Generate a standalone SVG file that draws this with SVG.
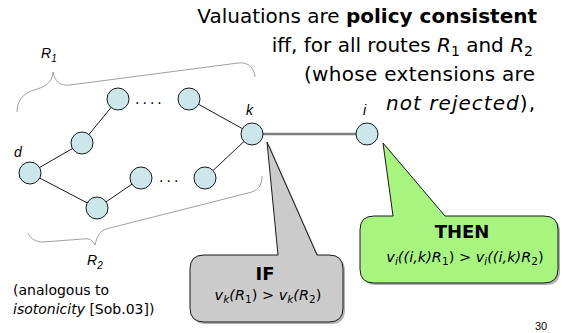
<svg xmlns="http://www.w3.org/2000/svg" width="563" height="333" viewBox="0 0 563 333">
<style>
.nd{fill:#cbe7ea;stroke:#1a1a1a;stroke-width:1}
.ed{stroke:#1a1a1a;stroke-width:1;fill:none}
.lk{stroke:#808080;stroke-width:2.5;fill:none}
.br{fill:none;stroke:#a0a0a0;stroke-width:1}
.lbl{font-family:"Liberation Sans",Arial,sans-serif;font-style:italic;font-size:14px;fill:#000}
.ttl{font-family:"DejaVu Sans",Verdana,sans-serif;font-size:20px;fill:#000}
.b{font-weight:bold}
.it{font-style:italic}
.f{font-family:"DejaVu Sans",Verdana,sans-serif;font-size:14.5px;font-style:italic;fill:#000}
.hd{font-family:"DejaVu Sans",Verdana,sans-serif;font-size:18px;font-weight:bold;fill:#000}
.nt{font-family:"DejaVu Sans",Verdana,sans-serif;font-size:14px;fill:#000}
.dots{font-family:"DejaVu Sans",sans-serif;font-size:14px;fill:#000;letter-spacing:3px}
.sh{fill:#555;opacity:0.45}
</style>

<g id="braces">
<path class="br" d="M17,112 C17,100 24,93 34,90 C44,87 52,84 53,72 C55,82 60,86 70,85 L238,63 C248,62 254,67 255,77"/>
<path class="br" d="M262,176 C262,186 258,191 248,193 L106,229 C100,231 97,236 95,245 C93,240 89,238 83,239 L43,242 C35,242 30,238 28,233"/>
<text class="lbl" x="41" y="58">R<tspan font-size="10" dy="4">1</tspan></text>
<text class="lbl" x="87" y="265">R<tspan font-size="10" dy="4">2</tspan></text>
</g>

<g id="connectors">
<line class="ed" x1="30" y1="173" x2="82" y2="143"/>
<line class="ed" x1="82" y1="143" x2="118" y2="99"/>
<line class="ed" x1="189" y1="99" x2="252" y2="134"/>
<line class="ed" x1="205" y1="178" x2="252" y2="134"/>
<line class="ed" x1="30" y1="173" x2="97" y2="208"/>
<line class="ed" x1="97" y1="208" x2="141" y2="178"/>
<line class="lk" x1="252" y1="134" x2="367" y2="134"/>
</g>

<text class="dots" x="135" y="104">....</text>
<text class="dots" x="159" y="182">...</text>

<g id="node-d"><circle class="nd" cx="30" cy="173" r="11"/><text class="lbl" x="14" y="157">d</text></g>
<g id="node-a"><circle class="nd" cx="82" cy="143" r="11"/></g>
<g id="node-b"><circle class="nd" cx="118" cy="99" r="11"/></g>
<g id="node-c"><circle class="nd" cx="189" cy="99" r="11"/></g>
<g id="node-k"><circle class="nd" cx="252" cy="134" r="11"/><text class="lbl" x="246" y="115">k</text></g>
<g id="node-e"><circle class="nd" cx="97" cy="208" r="11"/></g>
<g id="node-f"><circle class="nd" cx="141" cy="178" r="11"/></g>
<g id="node-g"><circle class="nd" cx="205" cy="178" r="11"/></g>
<g id="node-i"><circle class="nd" cx="367" cy="134" r="11"/><text class="lbl" x="363" y="115">i</text></g>

<g id="title">
<text class="ttl" x="537" y="23" text-anchor="end">Valuations are <tspan class="b">policy consistent</tspan></text>
<text class="ttl" x="533" y="52" text-anchor="end">iff, for all routes <tspan class="it">R</tspan><tspan font-size="14" dy="4">1</tspan><tspan dy="-4"> and </tspan><tspan class="it">R</tspan><tspan font-size="14" dy="4">2</tspan></text>
<text class="ttl" x="304" y="81" textLength="231" lengthAdjust="spacing">(whose extensions are</text>
<text class="ttl it" x="386" y="110" textLength="149" lengthAdjust="spacing">not rejected<tspan font-style="normal">),</tspan></text>
</g>

<g id="callout-if">
<path class="sh" transform="translate(2,2)" d="M204,255 L278,255 L267,142 L317,255 L329,255 Q343,255 343,269 L343,308 Q343,322 329,322 L204,322 Q190,322 190,308 L190,269 Q190,255 204,255 Z"/>
<path fill="#cbcbcb" stroke="#1a1a1a" stroke-width="1" d="M204,255 L278,255 L267,142 L317,255 L329,255 Q343,255 343,269 L343,308 Q343,322 329,322 L204,322 Q190,322 190,308 L190,269 Q190,255 204,255 Z"/>
<text class="hd" x="265" y="280" text-anchor="middle">IF</text>
<text class="f" x="268" y="300" text-anchor="middle">v<tspan font-size="10.5" dy="3">k</tspan><tspan dy="-3">(R</tspan><tspan font-size="10.5" dy="3" font-style="normal">1</tspan><tspan dy="-3" font-style="normal">) &gt; </tspan>v<tspan font-size="10.5" dy="3">k</tspan><tspan dy="-3">(R</tspan><tspan font-size="10.5" dy="3" font-style="normal">2</tspan><tspan dy="-3" font-style="normal">)</tspan></text>
</g>

<g id="callout-then">
<path class="sh" transform="translate(2,2)" d="M374,216 L393,216 L383,143 L445,216 L544,216 Q558,216 558,230 L558,269 Q558,283 544,283 L374,283 Q360,283 360,269 L360,230 Q360,216 374,216 Z"/>
<path fill="#a7f57f" stroke="#1a1a1a" stroke-width="1" d="M374,216 L393,216 L383,143 L445,216 L544,216 Q558,216 558,230 L558,269 Q558,283 544,283 L374,283 Q360,283 360,269 L360,230 Q360,216 374,216 Z"/>
<text class="hd" x="462" y="238" text-anchor="middle">THEN</text>
<text class="f" x="465" y="262" text-anchor="middle">v<tspan font-size="10.5" dy="3">i</tspan><tspan dy="-3">((i,k)R</tspan><tspan font-size="10.5" dy="3" font-style="normal">1</tspan><tspan dy="-3" font-style="normal">) &gt; </tspan>v<tspan font-size="10.5" dy="3">i</tspan><tspan dy="-3">((i,k)R</tspan><tspan font-size="10.5" dy="3" font-style="normal">2</tspan><tspan dy="-3" font-style="normal">)</tspan></text>
</g>

<g id="note">
<text class="nt" x="13" y="295">(analogous to</text>
<text class="nt" x="13" y="314"><tspan class="it">isotonicity</tspan> [Sob.03])</text>
</g>
<text x="541" y="330" text-anchor="middle" font-family="Liberation Sans, Arial, sans-serif" font-size="11">30</text>
</svg>
